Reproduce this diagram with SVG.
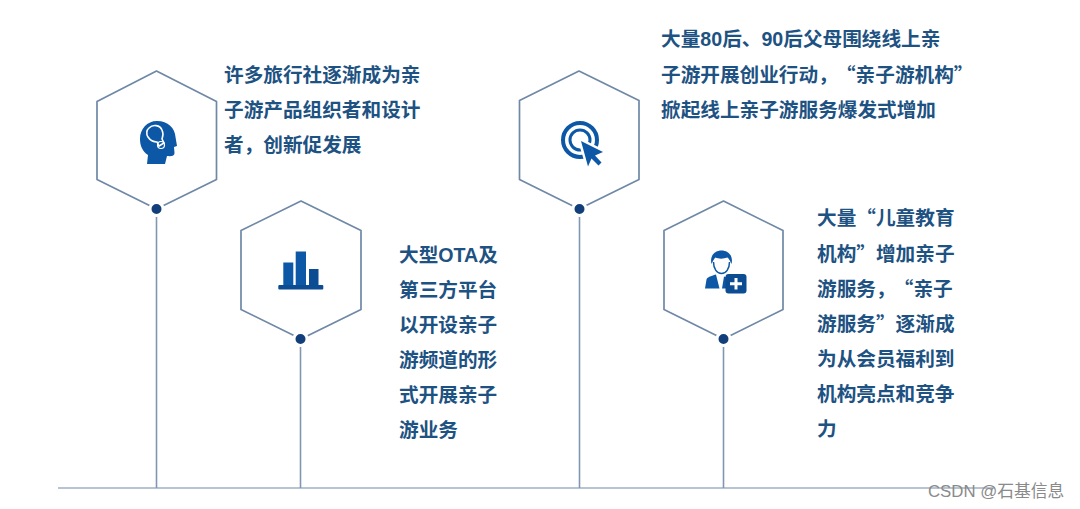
<svg xmlns="http://www.w3.org/2000/svg" width="1080" height="509" viewBox="0 0 1080 509">
<style>
.hex{fill:#fff;stroke:#6f88a6;stroke-width:1.7;stroke-linejoin:round}
.stem{stroke:#7f97b2;stroke-width:1.6;fill:none}
.dot{fill:#123f7a;stroke:#fff;stroke-width:3}
.ico{fill:#0d58a6}
.cut{fill:none;stroke:#fff}
.t{font-family:"Liberation Sans","Noto Sans CJK SC",sans-serif;font-size:19.65px;font-weight:700;fill:#1d5282}
.q{font-family:"Noto Sans CJK SC",sans-serif}
.wm{font-family:"Liberation Sans","Noto Sans CJK SC",sans-serif;font-size:16.8px;fill:#8a8a8a}
</style>
<rect width="1080" height="509" fill="#fff"/>
<g id="connectors">
<line class="stem" x1="58" y1="488" x2="995" y2="488" style="stroke:#9fb0c4"/>
<line class="stem" x1="156.500" y1="209" x2="156.500" y2="488"/>
<line class="stem" x1="300.500" y1="339" x2="300.500" y2="488"/>
<line class="stem" x1="579.500" y1="209" x2="579.500" y2="488"/>
<line class="stem" x1="723.500" y1="339" x2="723.500" y2="488"/>
</g>
<g id="node1">
<polygon class="hex" points="156.500,71 216.500,101.500 216.500,179.500 156.500,209 97,179.500 97,101.500"/>
<circle class="dot" cx="156.500" cy="209" r="6.500"/>
<path class="ico" d="M157 121c11 0 18 7 18.500 16l1.500 9-3 1 .5 6c0 3-3 3.500-7.500 3l-2 8h-18l1-9c-6-4-8-10-8-16 0-10 7-18 17-18z"/>
<path class="cut" stroke="#cfe3f5" stroke-width="1.600" d="M149 128c4-4 11-3 13 2 2 4 .5 7 0 9l2 4-5 3-2-4c-3 0-7-2-9-5-2-3-1.500-7 1-9z"/>
<circle class="cut" stroke="#cfe3f5" stroke-width="1.200" cx="161" cy="145" r="3.500"/>
<text class="t" x="224" y="82">许多旅行社逐渐成为亲</text>
<text class="t" x="224" y="117">子游产品组织者和设计</text>
<text class="t" x="224" y="152">者，创新促发展</text>
</g>
<g id="node2">
<polygon class="hex" points="301,201 361,230.500 361,309.500 301,339 241,309.500 241,230.500"/>
<circle class="dot" cx="300.500" cy="339" r="6.500"/>
<rect class="ico" x="283.300" y="262.500" width="10" height="24"/>
<rect class="ico" x="295.700" y="251.500" width="10.300" height="35"/>
<rect class="ico" x="309" y="269" width="9.500" height="17.500" style="fill:#0b4c92"/>
<rect class="ico" x="278.300" y="285" width="45" height="4.500" rx="1" style="fill:#0b4c92"/>
<text class="t" x="399" y="262">大型OTA及</text>
<text class="t" x="399" y="297">第三方平台</text>
<text class="t" x="399" y="332">以开设亲子</text>
<text class="t" x="399" y="367">游频道的形</text>
<text class="t" x="399" y="402">式开展亲子</text>
<text class="t" x="399" y="437">游业务</text>
</g>
<g id="node3">
<polygon class="hex" points="579,71 639,100.500 639,179.500 579,209 519.500,179.500 519.500,100.500"/>
<circle class="dot" cx="579.500" cy="209" r="6.500"/>
<circle cx="580" cy="140" r="17" fill="none" stroke="#0d58a6" stroke-width="4"/>
<circle cx="580" cy="140" r="10" fill="none" stroke="#0d58a6" stroke-width="3"/>
<path d="M579 139l26 13-8 3.500 6.500 7-5 5-7-7-3.500 8z" fill="#fff" stroke="#fff" stroke-width="3"/>
<path class="ico" d="M581 141l22 11-8 3.500 6.500 7-3 3-7-7-3.500 8z"/>
<text class="t" x="661" y="46">大量80后、90后父母围绕线上亲</text>
<text class="t" x="661" y="82">子游开展创业行动，<tspan class="q" dx="8">“</tspan>亲子游机构<tspan class="q">”</tspan></text>
<text class="t" x="661" y="117">掀起线上亲子游服务爆发式增加</text>
</g>
<g id="node4">
<polygon class="hex" points="723.500,201 783,230.500 783,309.500 723.500,339 664,309.500 664,230.500"/>
<circle class="dot" cx="723.500" cy="339" r="6.500"/>
<path class="ico" d="M711.500 264c-2-8 3-13.500 10-13.500s12 5.500 10 13.500c-2-4-3-6-4-6.500-4 1.500-9 1.500-12 0-1 .5-2 2.500-4 6.500z"/>
<path d="M713.500 262c0 7 3.500 11.500 8 11.500s8-4.500 8-11.500" fill="none" stroke="#0d58a6" stroke-width="1.500"/>
<path class="ico" d="M705 288.500l1.500-9c.5-2 4-3.500 9.500-5l3.500 14zM722 288.500l2-12 3 1v11z"/>
<rect x="725.500" y="274" width="21" height="19.500" rx="3" fill="#0b4c92"/>
<path d="M736 278v11.500M730 283.700h12" stroke="#fff" stroke-width="3" fill="none"/>
<text class="t" x="817" y="225">大量<tspan class="q">“</tspan>儿童教育</text>
<text class="t" x="817" y="261">机构<tspan class="q">”</tspan>增加亲子</text>
<text class="t" x="817" y="296">游服务，<tspan class="q" dx="8">“</tspan>亲子</text>
<text class="t" x="817" y="331">游服务<tspan class="q">”</tspan>逐渐成</text>
<text class="t" x="817" y="366">为从会员福利到</text>
<text class="t" x="817" y="401">机构亮点和竞争</text>
<text class="t" x="817" y="436">力</text>
</g>
<text class="wm" x="928" y="497">CSDN @石基信息</text>
</svg>
